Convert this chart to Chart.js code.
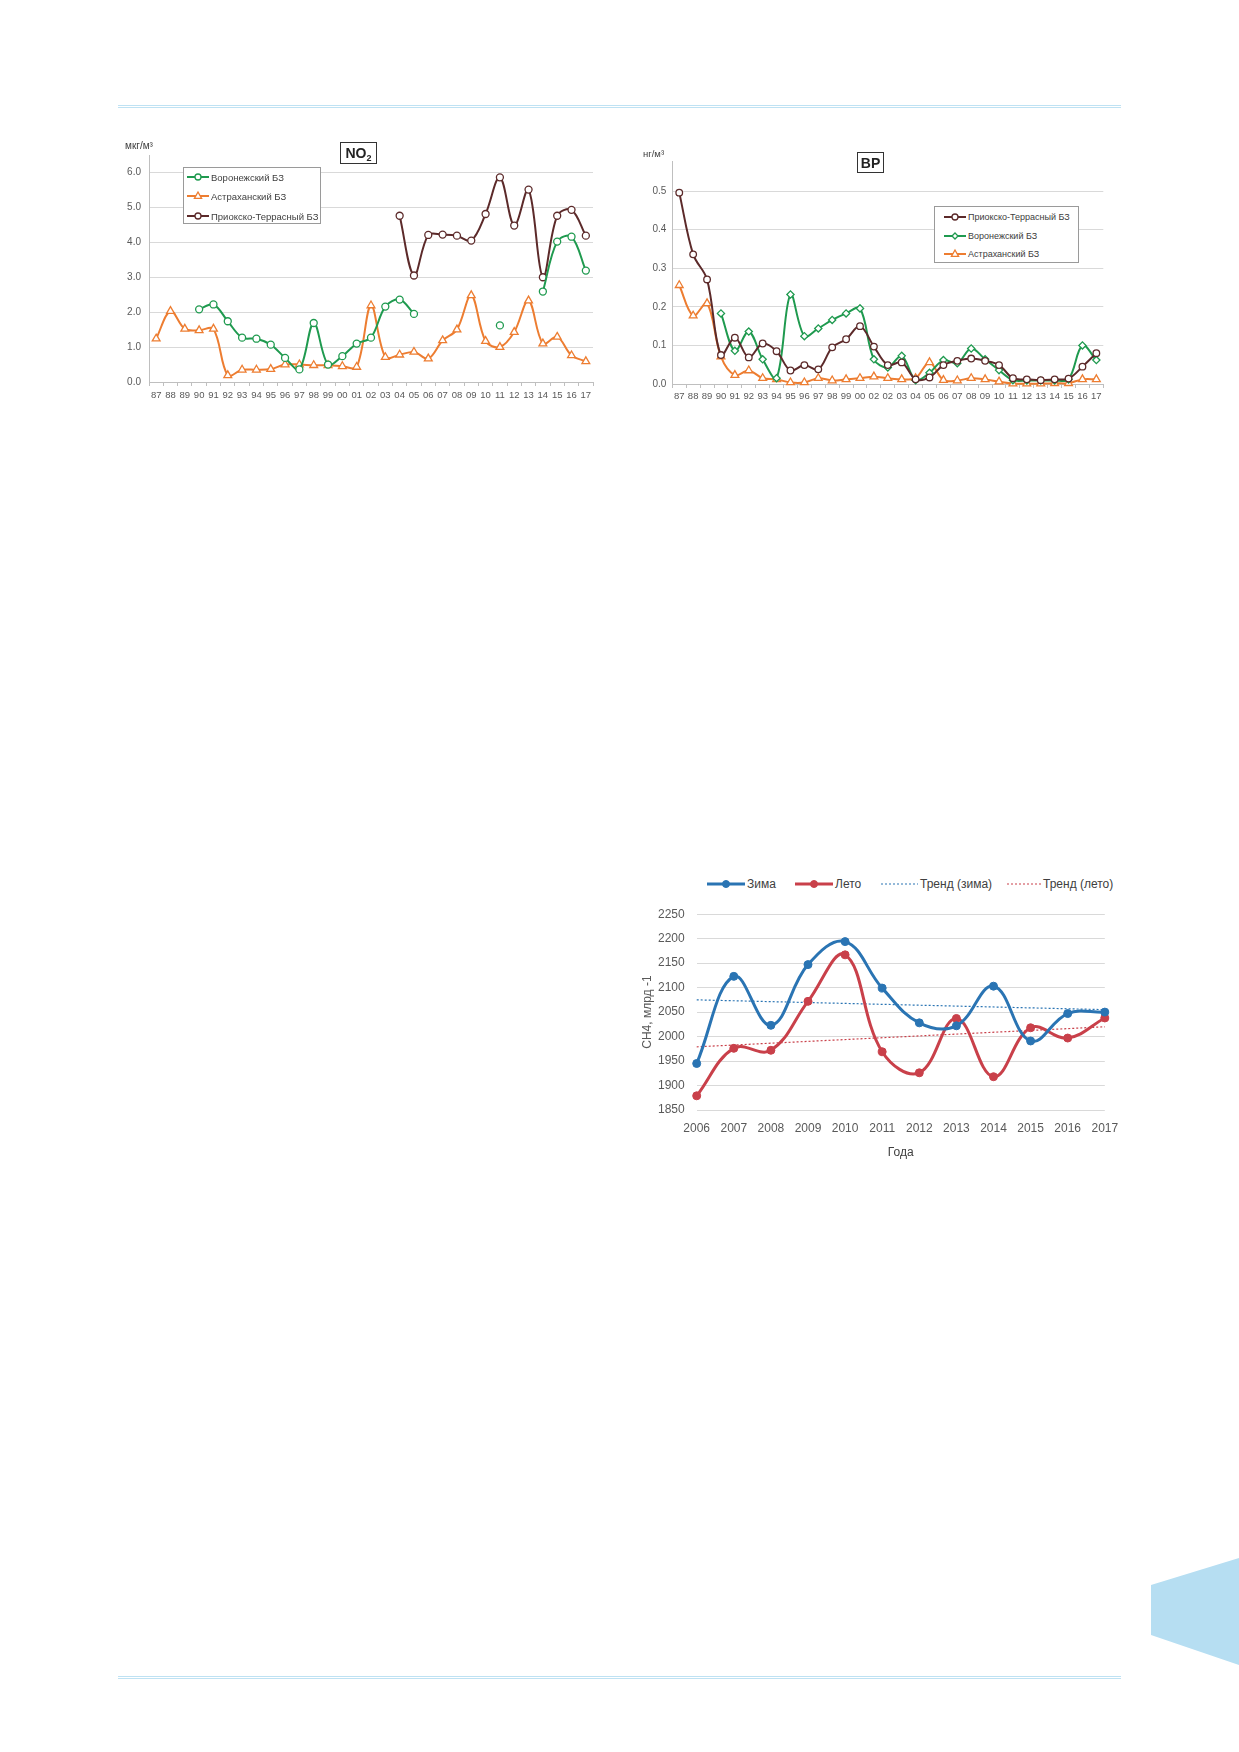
<!DOCTYPE html>
<html lang="ru">
<head>
<meta charset="utf-8">
<title>NO2, BP, CH4</title>
<script src="https://cdn.jsdelivr.net/npm/chart.js@4"></script>
<style>
  html,body{margin:0;padding:0;background:#fff;}
  body{position:relative;width:1239px;height:1752px;overflow:hidden;
       font-family:'Liberation Sans',Arial,sans-serif;color:#404040;}
  canvas{position:absolute;}
  .rule{position:absolute;left:118px;width:1003px;height:1px;
        border-top:1.5px solid #bfe2f3;border-bottom:1.5px solid #bfe2f3;}
  .unit{position:absolute;font-size:10px;line-height:10px;color:#404040;white-space:nowrap;}
  .tbox{position:absolute;box-sizing:border-box;border:1.5px solid #333;
        font-weight:bold;font-size:14px;line-height:14px;color:#222;
        text-align:center;padding-top:3px;}
  .tbox .sb{font-size:9px;position:relative;top:3px;}
  .lgbox{position:absolute;box-sizing:border-box;background:#fff;border:1px solid #9a9a9a;}
  .lgi{position:absolute;height:16px;display:flex;align-items:center;white-space:nowrap;}
  .lgi svg{display:block;flex:none;margin-right:2px;}
</style>
</head>
<body>

<div class="rule" style="top:105px"></div>
<div class="rule" style="top:1676px"></div>
<svg style="position:absolute;left:0;top:0" width="1239" height="1752">
  <polygon points="1151,1585 1239,1558 1239,1665 1151,1635" fill="#b6def2"/>
</svg>

<!-- NO2 -->
<canvas id="no2" width="510" height="290" style="left:100px;top:130px"></canvas>
<div class="unit" style="left:125px;top:141px">мкг/м³</div>
<div class="tbox" style="left:340px;top:142px;width:37px;height:22px">NO<span class="sb">2</span></div>
<div class="lgbox" id="no2leg" style="left:183px;top:167px;width:138px;height:57px"></div>

<!-- BP -->
<canvas id="bp" width="500" height="280" style="left:620px;top:140px"></canvas>
<div class="unit" style="left:643px;top:149px;font-size:9.5px">нг/м³</div>
<div class="tbox" style="left:857px;top:152px;width:27px;height:21px;padding-top:2.5px">BP</div>
<div class="lgbox" id="bpleg" style="left:934px;top:206px;width:145px;height:57px"></div>

<!-- CH4 -->
<canvas id="ch4" width="500" height="275" style="left:630px;top:895px"></canvas>

<script>
/* ---------- данные ---------- */
const yearsNO2 = ['87','88','89','90','91','92','93','94','95','96','97','98','99','00','01',
                  '02','03','04','05','06','07','08','09','10','11','12','13','14','15','16','17'];
const no2Voronezh  = [null,null,null,2.08,2.22,1.74,1.27,1.24,1.07,0.69,0.36,1.69,0.50,0.74,1.10,
                      1.27,2.16,2.36,1.95,null,null,null,null,null,1.62,null,null,2.59,4.02,4.16,3.19];
const no2Astrakhan = [1.24,2.03,1.52,1.48,1.52,0.19,0.35,0.35,0.37,0.50,0.50,0.48,0.48,0.45,0.43,
                      2.19,0.71,0.78,0.86,0.67,1.19,1.50,2.48,1.17,1.00,1.43,2.33,1.10,1.29,0.76,0.59];
const no2Prioksko  = [null,null,null,null,null,null,null,null,null,null,null,null,null,null,null,
                      null,null,4.76,3.05,4.21,4.22,4.19,4.05,4.81,5.86,4.48,5.51,3.00,4.76,4.93,4.19];

// в оригинале подпись "01" напечатана как "02"
const yearsBP = ['87','88','89','90','91','92','93','94','95','96','97','98','99','00','02',
                 '02','03','04','05','06','07','08','09','10','11','12','13','14','15','16','17'];
const bpPrioksko  = [0.496,0.336,0.271,0.075,0.120,0.069,0.105,0.085,0.035,0.049,0.038,0.095,0.116,0.150,0.097,
                     0.049,0.056,0.012,0.017,0.049,0.060,0.066,0.060,0.049,0.015,0.012,0.010,0.012,0.014,0.045,0.080];
const bpVoronezh  = [null,null,null,0.183,0.086,0.136,0.064,0.015,0.232,0.124,0.144,0.166,0.183,0.196,0.064,
                     0.043,0.073,0.010,0.029,0.062,0.054,0.092,0.064,0.036,0.010,0.009,0.009,0.009,0.012,0.100,0.062];
const bpAstrakhan = [0.256,0.177,0.209,0.071,0.023,0.035,0.015,0.012,0.004,0.004,0.015,0.009,0.012,0.015,0.019,
                     0.015,0.012,0.015,0.056,0.010,0.009,0.015,0.012,0.006,0.001,0.001,0.001,0.002,0.002,0.012,0.012];

const yearsCH4 = ['2006','2007','2008','2009','2010','2011','2012','2013','2014','2015','2016','2017'];
const ch4Winter = [1945,2123,2023,2147,2194,2099,2028,2022,2103,1991,2047,2050];
const ch4Summer = [1879,1976,1972,2072,2167,1969,1926,2037,1918,2018,1997,2038];
const ch4TrendWinter = [2075,null,null,null,null,null,null,null,null,null,null,2055];
const ch4TrendSummer = [1979,null,null,null,null,null,null,null,null,null,null,2020];

/* ---------- стиль ---------- */
const FONT = "'Liberation Sans', Arial, sans-serif";
const TICK = '#595959', GRID = '#d9d9d9', AXIS = '#bfbfbf';
const GREEN = '#1f9a4f', ORANGE = '#ed7d31', BROWN = '#5c2a2a';
const BLUE = '#2a74b3', RED = '#c9404a';

Chart.defaults.font.family = FONT;
Chart.defaults.color = TICK;
Chart.defaults.animation = false;

const series = (label, data, color, style, r, extra) => Object.assign({
  label, data, borderColor: color, backgroundColor: color,
  borderWidth: 2, pointStyle: style, pointRadius: r, pointHoverRadius: r,
  pointBackgroundColor: '#fff', pointBorderColor: color, pointBorderWidth: 1.3,
  tension: 0.35, fill: false, clip: 8
}, extra || {});

const yearAxis = (h, pad) => ({
  offset: true,
  grid: {display: true, drawOnChartArea: false, drawTicks: true, tickLength: 4, offset: true, color: AXIS},
  border: {display: true, color: AXIS},
  ticks: {autoSkip: false, maxRotation: 0, minRotation: 0, padding: pad, font: {size: 9.5}},
  afterFit: s => { s.height = h; }
});

const valueAxis = (min, max, step, w, pad) => ({
  min, max,
  grid: {color: GRID, drawTicks: false},
  border: {display: true, color: AXIS},
  ticks: {stepSize: step, includeBounds: false, padding: pad, font: {size: 10},
          callback: v => Number(v).toFixed(1)},
  afterFit: s => { s.width = w; }
});

const noPlugins = {legend: {display: false}, tooltip: {enabled: false}};

/* ---------- легенда (html) ---------- */
function marker(ds, cx, cy) {
  const r = ds.legendR, f = ds.pointBackgroundColor, s = ds.pointBorderColor, w = ds.pointBorderWidth;
  if (!r) return '';
  if (ds.pointStyle === 'triangle')
    return `<polygon points="${cx},${cy-r} ${cx+r*0.9},${cy+r*0.6} ${cx-r*0.9},${cy+r*0.6}" fill="${f}" stroke="${s}" stroke-width="${w}"/>`;
  if (ds.pointStyle === 'rectRot')
    return `<polygon points="${cx},${cy-r} ${cx+r},${cy} ${cx},${cy+r} ${cx-r},${cy}" fill="${f}" stroke="${s}" stroke-width="${w}"/>`;
  return `<circle cx="${cx}" cy="${cy}" r="${r}" fill="${f}" stroke="${s}" stroke-width="${w}"/>`;
}
function legend(box, chart, rows, size) {
  rows.forEach(([i, x, y, w]) => {
    const ds = chart.data.datasets[i];
    const d = document.createElement('div');
    d.className = 'lgi';
    d.style.left = x + 'px'; d.style.top = (y - 8) + 'px'; d.style.fontSize = size + 'px';
    const dash = ds.borderDash ? `stroke-dasharray="${ds.borderDash.join(',')}"` : '';
    d.innerHTML = `<svg width="${w}" height="16"><line x1="0" y1="8" x2="${w}" y2="8" stroke="${ds.borderColor}"
                   stroke-width="${ds.borderWidth}" ${dash}/>${marker(ds, w/2, 8)}</svg><span>${ds.label}</span>`;
    box.appendChild(d);
  });
}

/* ---------- NO2 ---------- */
const no2 = new Chart(document.getElementById('no2'), {
  type: 'line',
  data: {labels: yearsNO2, datasets: [
    series('Воронежский БЗ', no2Voronezh, GREEN, 'circle', 3.5, {legendR: 3}),
    series('Астраханский БЗ', no2Astrakhan, ORANGE, 'triangle', 4.5, {legendR: 4}),
    series('Приокско-Террасный БЗ', no2Prioksko, BROWN, 'circle', 3.5, {legendR: 3})
  ]},
  options: {
    responsive: false,
    layout: {padding: {top: 25, right: 17, left: 0, bottom: 0}},
    plugins: noPlugins,
    scales: {x: yearAxis(38, 4), y: valueAxis(0, 6.5, 1, 49, 8)}
  }
});
legend(document.getElementById('no2leg'), no2, [[0, 3, 9, 22], [1, 3, 28, 22], [2, 3, 48, 22]], 9.5);

/* ---------- BP ---------- */
const bp = new Chart(document.getElementById('bp'), {
  type: 'line',
  data: {labels: yearsBP, datasets: [
    series('Приокско-Террасный БЗ', bpPrioksko, BROWN, 'circle', 3.3, {legendR: 3}),
    series('Воронежский БЗ', bpVoronezh, GREEN, 'rectRot', 3.6, {legendR: 3}),
    series('Астраханский БЗ', bpAstrakhan, ORANGE, 'triangle', 4.5, {legendR: 4})
  ]},
  options: {
    responsive: false,
    layout: {padding: {top: 21, right: 16.7, left: 0, bottom: 0}},
    plugins: noPlugins,
    scales: {x: yearAxis(36, 3), y: valueAxis(0, 0.578, 0.1, 52.3, 6)}
  }
});
legend(document.getElementById('bpleg'), bp, [[0, 9, 10, 22], [1, 9, 29, 22], [2, 9, 47, 22]], 9);

/* ---------- CH4 ---------- */
const solid = (label, data, color) => ({
  label, data, borderColor: color, backgroundColor: color, borderWidth: 3,
  pointRadius: 4, pointHoverRadius: 4, pointBackgroundColor: color, pointBorderColor: color,
  pointBorderWidth: 1, tension: 0.4, fill: false, clip: 8, legendR: 3.5
});
const trend = (label, data, color) => ({
  label, data, borderColor: color, borderWidth: 1.2, borderDash: [2, 2],
  pointRadius: 0, spanGaps: true, tension: 0, fill: false
});
const ch4 = new Chart(document.getElementById('ch4'), {
  type: 'line',
  data: {labels: yearsCH4, datasets: [
    solid('Зима', ch4Winter, BLUE),
    solid('Лето', ch4Summer, RED),
    trend('Тренд (зима)', ch4TrendWinter, BLUE),
    trend('Тренд (лето)', ch4TrendSummer, RED)
  ]},
  options: {
    responsive: false,
    layout: {padding: {top: 18, right: 25.2, left: 0, bottom: 0}},
    plugins: noPlugins,
    scales: {
      x: {offset: false, grid: {display: false}, border: {display: false},
          ticks: {padding: 3, font: {size: 12}, maxRotation: 0, autoSkip: false},
          title: {display: true, text: 'Года', color: '#404040', font: {size: 12}, padding: {top: 0, bottom: 10}},
          afterFit: s => { s.height = 60; }},
      y: {min: 1850, max: 2250,
          grid: {color: GRID, drawTicks: false}, border: {display: false},
          ticks: {stepSize: 50, padding: 12, font: {size: 12}, callback: v => String(v)},
          title: {display: true, text: 'CH4, млрд -1', color: TICK, font: {size: 12}, padding: {top: 10, bottom: 0}},
          afterFit: s => { s.width = 66.7; }}
    }
  }
});
legend(document.body, ch4, [[0, 707, 884, 38], [1, 795, 884, 38], [2, 881, 884, 37], [3, 1007, 884, 34]], 12);
</script>
</body>
</html>
